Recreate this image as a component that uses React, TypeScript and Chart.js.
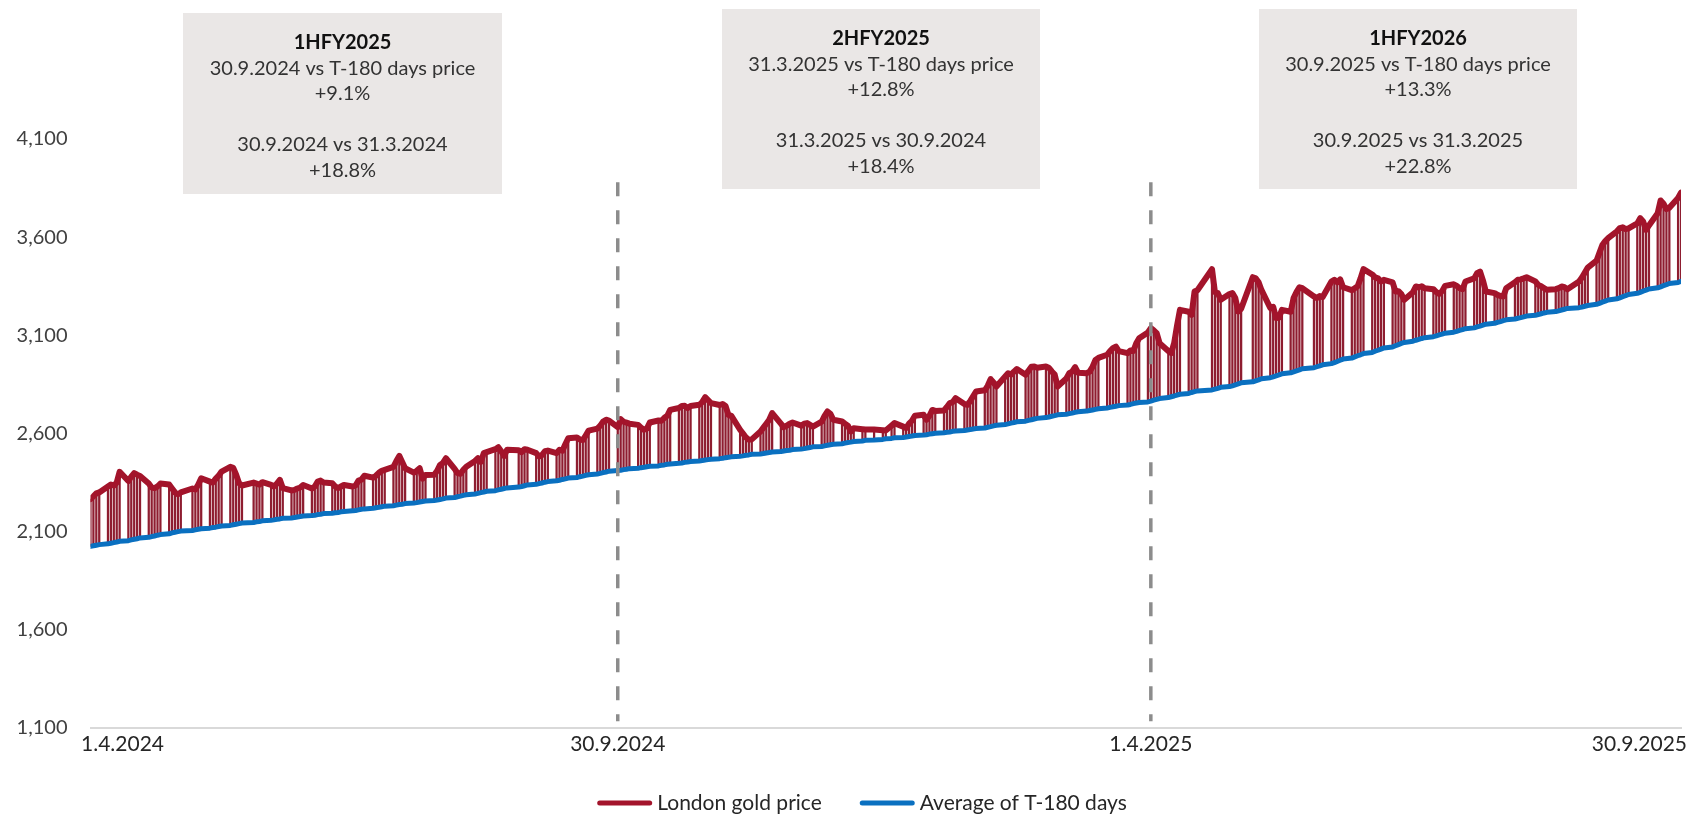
import React, { useEffect, useRef } from "react";
import { Chart, registerables } from "chart.js";

Chart.register(...registerables);

const FONT = "Lato, 'Noto Sans', sans-serif";

// Trading months shown (LBMA fixing days = weekdays minus UK bank holidays)
const monthKeys = [
  "2024-04", "2024-05", "2024-06", "2024-07", "2024-08", "2024-09",
  "2024-10", "2024-11", "2024-12", "2025-01", "2025-02", "2025-03",
  "2025-04", "2025-05", "2025-06", "2025-07", "2025-08", "2025-09",
];
const holidays = [
  "2024-04-01", "2024-05-06", "2024-05-27", "2024-08-26", "2024-12-25", "2024-12-26",
  "2025-01-01", "2025-04-18", "2025-04-21", "2025-05-05", "2025-05-26", "2025-08-25",
];

// London gold price (USD/oz), one value per trading day
const gold_2024_04 = [2266, 2280, 2295, 2300, 2330, 2340, 2335, 2350, 2405, 2358, 2380, 2398, 2390, 2384, 2345, 2325, 2322, 2330, 2345, 2340, 2320];
const gold_2024_05 = [2300, 2290, 2300, 2320, 2315, 2340, 2372, 2355, 2350, 2370, 2385, 2406, 2430, 2425, 2390, 2347, 2335, 2350, 2345, 2340, 2352];
const gold_2024_06 = [2338, 2330, 2345, 2364, 2322, 2310, 2313, 2320, 2325, 2338, 2320, 2330, 2355, 2360, 2350, 2347, 2330, 2322, 2330, 2338];
const gold_2024_07 = [2330, 2335, 2360, 2365, 2385, 2375, 2385, 2400, 2410, 2415, 2430, 2460, 2486, 2455, 2423, 2401, 2410, 2423, 2370, 2389, 2390, 2410, 2440];
const gold_2024_08 = [2450, 2474, 2420, 2398, 2395, 2415, 2431, 2460, 2474, 2455, 2500, 2505, 2520, 2530, 2510, 2485, 2517, 2515, 2505, 2520, 2517];
const gold_2024_09 = [2500, 2483, 2490, 2510, 2513, 2500, 2517, 2512, 2545, 2576, 2580, 2570, 2566, 2590, 2615, 2625, 2640, 2661, 2670, 2666, 2632];
const gold_2024_10 = [2673, 2660, 2655, 2650, 2644, 2630, 2619, 2625, 2656, 2666, 2665, 2680, 2690, 2720, 2730, 2740, 2741, 2730, 2740, 2746, 2760, 2785, 2770];
const gold_2024_11 = [2755, 2745, 2750, 2740, 2695, 2690, 2619, 2600, 2580, 2568, 2570, 2610, 2630, 2650, 2670, 2704, 2650, 2632, 2640, 2650, 2656];
const gold_2024_12 = [2640, 2650, 2653, 2644, 2635, 2660, 2690, 2712, 2700, 2670, 2661, 2650, 2640, 2610, 2627, 2622, 2620, 2620, 2617, 2615];
const gold_2025_01 = [2640, 2653, 2635, 2627, 2650, 2665, 2690, 2695, 2670, 2690, 2720, 2715, 2717, 2735, 2755, 2760, 2780, 2750, 2746, 2765, 2790, 2814];
const gold_2025_02 = [2820, 2843, 2877, 2860, 2839, 2890, 2907, 2900, 2915, 2928, 2899, 2920, 2940, 2941, 2935, 2941, 2935, 2916, 2900, 2839];
const gold_2025_03 = [2880, 2907, 2915, 2938, 2910, 2907, 2915, 2940, 2975, 2985, 3001, 3020, 3035, 3043, 3020, 3009, 3023, 3020, 3060, 3085, 3115];
const gold_2025_04 = [3137, 3125, 3111, 3060, 3020, 3009, 3060, 3150, 3230, 3220, 3204, 3323, 3330, 3437, 3320, 3315, 3281, 3310, 3315, 3290];
const gold_2025_05 = [3221, 3235, 3396, 3390, 3370, 3330, 3239, 3245, 3188, 3190, 3230, 3220, 3290, 3320, 3345, 3340, 3298, 3290, 3300, 3295];
const gold_2025_06 = [3374, 3383, 3370, 3385, 3345, 3330, 3340, 3350, 3390, 3437, 3410, 3395, 3390, 3374, 3383, 3370, 3323, 3325, 3310, 3281, 3320];
const gold_2025_07 = [3349, 3345, 3350, 3340, 3335, 3320, 3311, 3325, 3352, 3360, 3352, 3340, 3335, 3374, 3390, 3417, 3425, 3380, 3323, 3315, 3306, 3300, 3298];
const gold_2025_08 = [3340, 3370, 3383, 3385, 3390, 3396, 3375, 3357, 3350, 3340, 3332, 3335, 3340, 3349, 3345, 3335, 3374, 3395, 3420, 3445];
const gold_2025_09 = [3480, 3520, 3560, 3580, 3595, 3630, 3646, 3650, 3641, 3645, 3670, 3697, 3680, 3637, 3660, 3722, 3787, 3770, 3743, 3750, 3800, 3827];

// Average of the previous 180 days (USD/oz), one value per trading day
const avg_2024_04 = [2025, 2028, 2031, 2034, 2038, 2041, 2044, 2047, 2051, 2054, 2058, 2061, 2064, 2068, 2071, 2075, 2078, 2082, 2085, 2089, 2094];
const avg_2024_05 = [2097, 2100, 2103, 2106, 2109, 2112, 2115, 2118, 2121, 2123, 2126, 2129, 2132, 2135, 2138, 2141, 2144, 2147, 2150, 2152, 2155];
const avg_2024_06 = [2158, 2160, 2163, 2165, 2168, 2170, 2172, 2175, 2177, 2180, 2182, 2184, 2187, 2189, 2192, 2194, 2196, 2198, 2201, 2203];
const avg_2024_07 = [2206, 2208, 2211, 2214, 2216, 2219, 2222, 2224, 2227, 2230, 2232, 2235, 2238, 2240, 2243, 2246, 2248, 2251, 2254, 2256, 2259, 2261, 2264];
const avg_2024_08 = [2267, 2271, 2274, 2278, 2281, 2285, 2288, 2292, 2295, 2299, 2302, 2306, 2309, 2313, 2316, 2320, 2323, 2327, 2330, 2334, 2338];
const avg_2024_09 = [2341, 2345, 2348, 2352, 2355, 2359, 2362, 2366, 2369, 2373, 2376, 2380, 2383, 2387, 2390, 2394, 2397, 2401, 2404, 2408, 2411];
const avg_2024_10 = [2413, 2416, 2418, 2421, 2423, 2426, 2428, 2431, 2433, 2435, 2438, 2440, 2443, 2445, 2448, 2450, 2453, 2455, 2457, 2460, 2462, 2465, 2467];
const avg_2024_11 = [2469, 2472, 2474, 2477, 2479, 2481, 2484, 2486, 2489, 2491, 2494, 2496, 2498, 2501, 2503, 2506, 2508, 2511, 2513, 2515, 2518];
const avg_2024_12 = [2521, 2523, 2526, 2529, 2532, 2534, 2537, 2540, 2543, 2545, 2548, 2551, 2554, 2556, 2559, 2562, 2565, 2567, 2570, 2573];
const avg_2025_01 = [2575, 2578, 2580, 2582, 2585, 2587, 2590, 2592, 2594, 2597, 2599, 2601, 2604, 2606, 2608, 2611, 2613, 2615, 2618, 2620, 2623, 2625];
const avg_2025_02 = [2628, 2632, 2635, 2639, 2642, 2646, 2649, 2653, 2656, 2660, 2663, 2667, 2670, 2674, 2677, 2681, 2684, 2688, 2691, 2695];
const avg_2025_03 = [2698, 2701, 2704, 2708, 2711, 2714, 2717, 2720, 2723, 2726, 2730, 2733, 2736, 2739, 2742, 2745, 2748, 2752, 2755, 2758, 2761];
const avg_2025_04 = [2765, 2770, 2774, 2778, 2783, 2787, 2791, 2796, 2800, 2804, 2809, 2813, 2817, 2822, 2826, 2830, 2835, 2839, 2843, 2848];
const avg_2025_05 = [2853, 2858, 2863, 2868, 2873, 2879, 2884, 2889, 2894, 2899, 2904, 2909, 2914, 2919, 2924, 2930, 2935, 2940, 2945, 2950];
const avg_2025_06 = [2956, 2961, 2967, 2973, 2979, 2984, 2990, 2996, 3001, 3007, 3013, 3019, 3024, 3030, 3036, 3041, 3047, 3053, 3059, 3064, 3070];
const avg_2025_07 = [3075, 3079, 3084, 3088, 3093, 3097, 3102, 3106, 3111, 3116, 3120, 3125, 3129, 3134, 3138, 3143, 3147, 3152, 3157, 3161, 3166, 3170, 3175];
const avg_2025_08 = [3179, 3183, 3187, 3190, 3194, 3198, 3202, 3206, 3210, 3214, 3217, 3221, 3225, 3229, 3233, 3237, 3241, 3244, 3248, 3252];
const avg_2025_09 = [3258, 3263, 3269, 3274, 3280, 3286, 3291, 3297, 3302, 3308, 3314, 3319, 3325, 3330, 3336, 3342, 3347, 3353, 3358, 3364, 3369, 3375];

const goldMonths = [gold_2024_04, gold_2024_05, gold_2024_06, gold_2024_07, gold_2024_08, gold_2024_09, gold_2024_10, gold_2024_11, gold_2024_12, gold_2025_01, gold_2025_02, gold_2025_03, gold_2025_04, gold_2025_05, gold_2025_06, gold_2025_07, gold_2025_08, gold_2025_09];
const avgMonths = [avg_2024_04, avg_2024_05, avg_2024_06, avg_2024_07, avg_2024_08, avg_2024_09, avg_2024_10, avg_2024_11, avg_2024_12, avg_2025_01, avg_2025_02, avg_2025_03, avg_2025_04, avg_2025_05, avg_2025_06, avg_2025_07, avg_2025_08, avg_2025_09];

// Axis: days counted from 1.4.2024
const xTickDays = [1, 182, 365, 547];
const xTickLabels = ["1.4.2024", "30.9.2024", "1.4.2025", "30.9.2025"];
const yTicks = [1100, 1600, 2100, 2600, 3100, 3600, 4100];
const periodMarkerDays = [182, 365];
const markerTop = 3880;
const markerBottom = 1135;

const seriesLabels = ["London gold price", "Average of T-180 days"];

const boxTitles = ["1HFY2025", "2HFY2025", "1HFY2026"];
const boxLines = [
  ["30.9.2024 vs T-180 days price", "+9.1%", "", "30.9.2024 vs 31.3.2024", "+18.8%"],
  ["31.3.2025 vs T-180 days price", "+12.8%", "", "31.3.2025 vs 30.9.2024", "+18.4%"],
  ["30.9.2025 vs T-180 days price", "+13.3%", "", "30.9.2025 vs 31.3.2025", "+22.8%"],
];

// Layout (pixels)
const boxRects = [
  { x: 183, y: 13, w: 319, h: 181 },
  { x: 722, y: 9, w: 318, h: 180 },
  { x: 1259, y: 9, w: 318, h: 180 },
];

const GOLD = "#A3142B";
const BLUE = "#0A70C0";

const BASE = Date.UTC(2024, 3, 1);
function tradingDays(key: string): number[] {
  const [y, m] = key.split("-").map(Number);
  const out: number[] = [];
  for (let d = 1; d <= 31; d++) {
    const t = Date.UTC(y, m - 1, d);
    const dt = new Date(t);
    if (dt.getUTCMonth() !== m - 1) break;
    const wd = dt.getUTCDay();
    if (wd === 0 || wd === 6) continue;
    const iso = dt.toISOString().slice(0, 10);
    if (holidays.includes(iso)) continue;
    out.push(Math.round((t - BASE) / 86400000));
  }
  return out;
}

function buildSeries() {
  const gold: { x: number; y: number }[] = [];
  const avg: { x: number; y: number }[] = [];
  const drops: { x: number; y: [number, number] }[] = [];
  monthKeys.forEach((k, mi) => {
    const days = tradingDays(k);
    const g = goldMonths[mi];
    const a = avgMonths[mi];
    const n = Math.min(days.length, g.length, a.length);
    for (let i = 0; i < n; i++) {
      gold.push({ x: days[i], y: g[i] });
      avg.push({ x: days[i], y: a[i] });
      drops.push({ x: days[i], y: [a[i], g[i]] });
    }
  });
  return { gold, avg, drops };
}

const overlayPlugin = {
  id: "overlay",
  afterDraw(chart: any) {
    const ctx: CanvasRenderingContext2D = chart.ctx;
    ctx.save();
    // annotation boxes
    boxRects.forEach((b, i) => {
      ctx.fillStyle = "#EAE7E6";
      ctx.fillRect(b.x, b.y, b.w, b.h);
      const cx = b.x + b.w / 2;
      ctx.textAlign = "center";
      ctx.textBaseline = "middle";
      ctx.fillStyle = "#111111";
      ctx.font = `bold 20px ${FONT}`;
      ctx.fillText(boxTitles[i], cx, b.y + 30);
      ctx.font = `20px ${FONT}`;
      ctx.fillStyle = "#333333";
      boxLines[i].forEach((t, j) => {
        if (t) ctx.fillText(t, cx, b.y + 30 + 25.5 * (j + 1));
      });
    });
    // x tick labels
    const xs = chart.scales.x;
    ctx.font = `21px ${FONT}`;
    ctx.fillStyle = "#262626";
    ctx.textAlign = "left";
    ctx.textBaseline = "middle";
    xTickDays.forEach((d, i) => {
      const px = xs.getPixelForValue(d);
      const w = ctx.measureText(xTickLabels[i]).width;
      let left = px - w / 2;
      left = Math.max(81, Math.min(left, 1687 - w));
      ctx.fillText(xTickLabels[i], left, 744);
    });
    // legend
    const colors = [GOLD, BLUE];
    const sampleW = 55;
    const gapText = 5;
    const gapItem = 38;
    const widths = seriesLabels.map((t) => ctx.measureText(t).width);
    const total = widths.reduce((s, w) => s + sampleW + gapText + w, 0) + gapItem;
    let x = 862 - total / 2;
    const ly = 803;
    seriesLabels.forEach((t, i) => {
      ctx.strokeStyle = colors[i];
      ctx.lineWidth = 5;
      ctx.lineCap = "round";
      ctx.beginPath();
      ctx.moveTo(x + 2.5, ly);
      ctx.lineTo(x + sampleW - 2.5, ly);
      ctx.stroke();
      ctx.fillStyle = "#262626";
      ctx.fillText(t, x + sampleW + gapText, ly);
      x += sampleW + gapText + widths[i] + gapItem;
    });
    ctx.restore();
  },
};

export default function App() {
  const ref = useRef<HTMLCanvasElement | null>(null);
  useEffect(() => {
    if (!ref.current) return;
    const { gold, avg, drops } = buildSeries();
    const markerSets = periodMarkerDays.map((d) => ({
      type: "line" as const,
      label: "marker",
      data: [{ x: d, y: markerTop }, { x: d, y: markerBottom }],
      borderColor: "#8C8C8C",
      borderWidth: 3.5,
      borderDash: [14, 14],
      pointRadius: 0,
      order: 0,
    }));
    const chart = new Chart(ref.current, {
      type: "line",
      data: {
        datasets: [
          ...markerSets,
          {
            type: "line",
            label: seriesLabels[0],
            data: gold,
            borderColor: GOLD,
            backgroundColor: GOLD,
            borderWidth: 6,
            pointRadius: 0,
            tension: 0,
            borderJoinStyle: "round",
            borderCapStyle: "round",
            order: 1,
          },
          {
            type: "line",
            label: seriesLabels[1],
            data: avg,
            borderColor: BLUE,
            backgroundColor: BLUE,
            borderWidth: 5,
            pointRadius: 0,
            tension: 0,
            borderJoinStyle: "round",
            borderCapStyle: "round",
            order: 2,
          },
          {
            type: "bar",
            label: "drop",
            data: drops as any,
            backgroundColor: "#8E1D30",
            borderWidth: 0,
            borderSkipped: false,
            barThickness: 1.6,
            order: 3,
          },
        ] as any,
      },
      options: {
        responsive: false,
        animation: false,
        layout: { padding: { left: 0, right: 9, top: 139, bottom: 0 } },
        plugins: { legend: { display: false }, tooltip: { enabled: false } },
        scales: {
          x: {
            type: "linear",
            min: 1,
            max: 547,
            offset: false,
            grid: { display: false, drawTicks: false, offset: false },
            border: { display: true, color: "#D9D9D9", width: 2 },
            ticks: { display: false },
            afterFit: (s: any) => {
              s.height = 87;
            },
          },
          y: {
            type: "linear",
            min: 1100,
            max: 4100,
            afterBuildTicks: (s: any) => {
              s.ticks = yTicks.map((v) => ({ value: v }));
            },
            grid: { display: false, drawTicks: false },
            border: { display: false },
            ticks: {
              padding: 23,
              color: "#404040",
              font: { family: FONT, size: 20 },
              callback: (v: any) => Number(v).toLocaleString("en-US"),
            },
            afterFit: (s: any) => {
              s.width = 90.5;
            },
          },
        },
      } as any,
      plugins: [overlayPlugin],
    });
    return () => chart.destroy();
  }, []);
  return (
    <div style={{ position: "absolute", left: 0, top: 0, width: 1690, height: 815, background: "#fff" }}>
      <canvas ref={ref} width={1690} height={815} style={{ display: "block" }} />
    </div>
  );
}
